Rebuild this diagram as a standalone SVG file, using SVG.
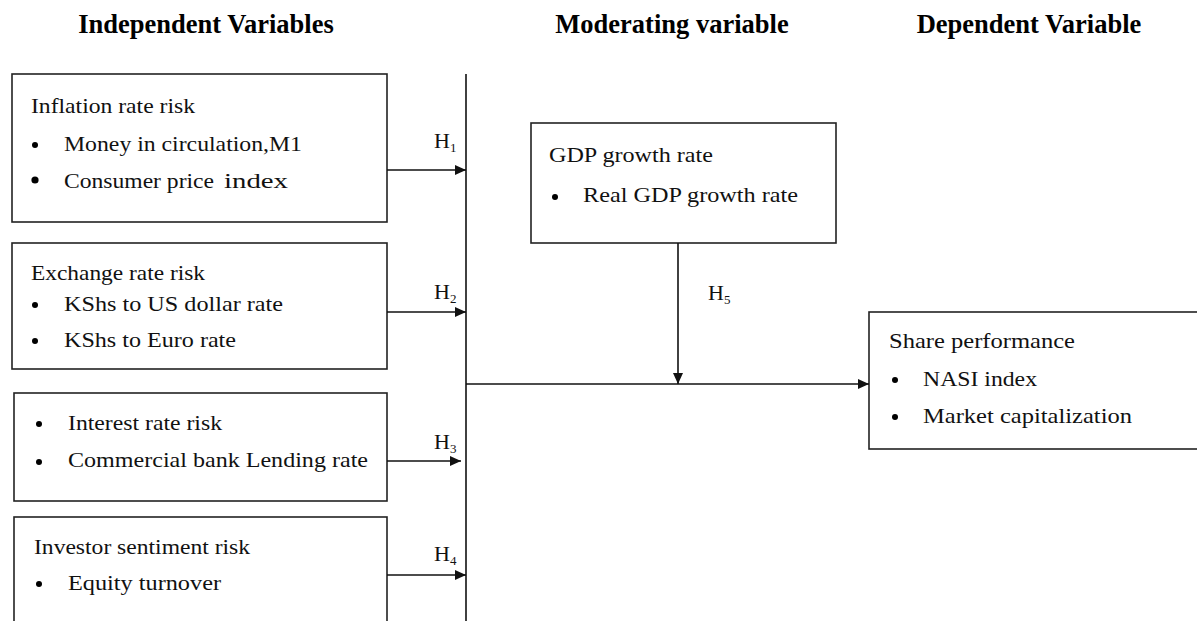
<svg xmlns="http://www.w3.org/2000/svg" width="1197" height="621" viewBox="0 0 1197 621">
<style>
.box{fill:#fff;stroke:#222;stroke-width:1.6}
.t{font-family:"Liberation Serif",serif;font-size:22px;fill:#111}
.h{font-family:"Liberation Serif",serif;font-size:26.5px;font-weight:bold;fill:#000}
.hl{font-family:"Liberation Serif",serif;font-size:22px;fill:#111}
.ln{stroke:#111;stroke-width:1.6;fill:none}
.sub{font-size:13px}
</style>
<defs>
<marker id="ah" viewBox="0 0 11 10" refX="11" refY="5" markerWidth="11" markerHeight="10" markerUnits="userSpaceOnUse" orient="auto">
<path d="M0,0 L11,5 L0,10 Z" fill="#111"/>
</marker>
</defs>
<rect width="1197" height="621" fill="#fff"/>
<g id="headers">
<text class="h" x="206" y="33" text-anchor="middle">Independent Variables</text>
<text class="h" x="672" y="33" text-anchor="middle">Moderating variable</text>
<text class="h" x="1029" y="33" text-anchor="middle">Dependent Variable</text>
</g>
<g id="inflation">
<rect class="box" x="12" y="74" width="375" height="148"/>
<text class="t" x="31" y="113" textLength="164" lengthAdjust="spacingAndGlyphs">Inflation rate risk</text>
<circle cx="35" cy="145" r="3"/>
<text class="t" x="64" y="151" textLength="238" lengthAdjust="spacingAndGlyphs">Money in circulation,M1</text>
<circle cx="35" cy="180" r="3.6"/>
<text class="t" x="64" y="188" font-size="20" textLength="150" lengthAdjust="spacingAndGlyphs">Consumer price</text>
<text class="t" x="224" y="188" font-size="24" textLength="64" lengthAdjust="spacingAndGlyphs">index</text>
</g>
<g id="exchange">
<rect class="box" x="12" y="243" width="375" height="126"/>
<text class="t" x="31" y="280" textLength="174" lengthAdjust="spacingAndGlyphs">Exchange rate risk</text>
<circle cx="35" cy="305" r="3"/>
<text class="t" x="64" y="311" textLength="219" lengthAdjust="spacingAndGlyphs">KShs to US dollar rate</text>
<circle cx="35" cy="341" r="3"/>
<text class="t" x="64" y="347" textLength="172" lengthAdjust="spacingAndGlyphs">KShs to Euro rate</text>
</g>
<g id="interest">
<rect class="box" x="14" y="393" width="373" height="108"/>
<circle cx="39" cy="424" r="3"/>
<text class="t" x="68" y="430" textLength="154" lengthAdjust="spacingAndGlyphs">Interest rate risk</text>
<circle cx="39" cy="462" r="3"/>
<text class="t" x="68" y="467" textLength="300" lengthAdjust="spacingAndGlyphs">Commercial bank Lending rate</text>
</g>
<g id="investor">
<rect class="box" x="14" y="517" width="373" height="120"/>
<text class="t" x="34" y="554" textLength="216" lengthAdjust="spacingAndGlyphs">Investor sentiment risk</text>
<circle cx="39" cy="584" r="3"/>
<text class="t" x="68" y="590" textLength="153" lengthAdjust="spacingAndGlyphs">Equity turnover</text>
</g>
<g id="gdp">
<rect class="box" x="531" y="123" width="305" height="120"/>
<text class="t" x="549" y="162" textLength="164" lengthAdjust="spacingAndGlyphs">GDP growth rate</text>
<circle cx="555" cy="197" r="3"/>
<text class="t" x="583" y="202" textLength="215" lengthAdjust="spacingAndGlyphs">Real GDP growth rate</text>
</g>
<g id="share">
<rect class="box" x="869" y="312" width="340" height="137"/>
<text class="t" x="889" y="348" textLength="186" lengthAdjust="spacingAndGlyphs">Share performance</text>
<circle cx="895" cy="380" r="3"/>
<text class="t" x="923" y="386" textLength="114" lengthAdjust="spacingAndGlyphs">NASI index</text>
<circle cx="895" cy="417" r="3"/>
<text class="t" x="923" y="423" textLength="209" lengthAdjust="spacingAndGlyphs">Market capitalization</text>
</g>
<g id="connectors">
<line class="ln" x1="466" y1="74" x2="466" y2="621"/>
<line class="ln" x1="387" y1="170" x2="466" y2="170" marker-end="url(#ah)"/>
<line class="ln" x1="387" y1="312" x2="466" y2="312" marker-end="url(#ah)"/>
<line class="ln" x1="387" y1="461" x2="461" y2="461" marker-end="url(#ah)"/>
<line class="ln" x1="387" y1="575" x2="466" y2="575" marker-end="url(#ah)"/>
<line class="ln" x1="466" y1="384" x2="869" y2="384" marker-end="url(#ah)"/>
<line class="ln" x1="678" y1="243" x2="678" y2="384" marker-end="url(#ah)"/>
<text class="hl" x="434" y="148">H<tspan class="sub" dy="4">1</tspan></text>
<text class="hl" x="434" y="299">H<tspan class="sub" dy="4">2</tspan></text>
<text class="hl" x="434" y="449">H<tspan class="sub" dy="4">3</tspan></text>
<text class="hl" x="434" y="561">H<tspan class="sub" dy="4">4</tspan></text>
<text class="hl" x="708" y="300">H<tspan class="sub" dy="4">5</tspan></text>
</g>
</svg>
